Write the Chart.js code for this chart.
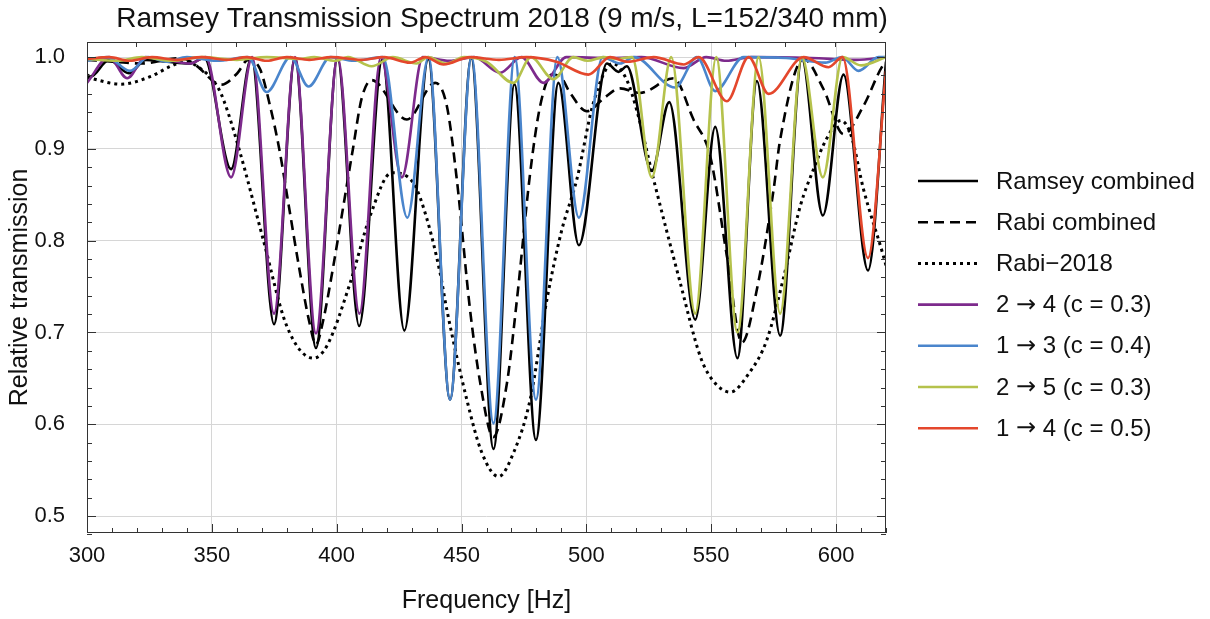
<!DOCTYPE html>
<html>
<head>
<meta charset="utf-8">
<script src="https://cdn.jsdelivr.net/npm/chart.js@4.4.0/dist/chart.umd.min.js"></script>
<style>
  html, body { margin: 0; padding: 0; background: #fff; }
</style>
</head>
<body>
<canvas id="myChart" width="1210" height="619"></canvas>
<script>
// Data (frequency in Hz, relative transmission)
var ramseyFreq = [300, 301.5, 308.8, 316.8, 323.5, 332, 341, 347, 357.7, 365.9, 374.9, 383.3, 391.7, 400.3, 409, 418.3, 427.1, 436.7, 445.4, 453.9, 462.8, 471.2, 479.8, 488.8, 497, 508.2, 512.9, 516.2, 526.2, 533.2, 543.6, 551.6, 560.5, 568.3, 577.6, 586.3, 594.7, 603, 612.8, 620];
var ramseyVal  = [0.981, 0.979, 0.997, 0.9825, 0.997, 0.995, 0.993, 0.999, 0.878, 0.999, 0.709, 0.999, 0.683, 0.999, 0.707, 0.998, 0.702, 0.998, 0.627, 0.999, 0.573, 0.9705, 0.583, 0.972, 0.795, 0.993, 0.984, 0.990, 0.876, 0.951, 0.714, 0.924, 0.672, 0.974, 0.6965, 0.998, 0.8275, 0.981, 0.7675, 0.995];

var rabiFreq = [300, 311, 321.5, 337.5, 344.2, 350.9, 353.8, 360.2, 364.5, 369.3, 373.3, 377, 381, 385, 389, 391.7, 394.5, 398.5, 402.5, 406.5, 410, 414, 428.1, 439.4, 444.1, 448.1, 453.4, 457.5, 462.7, 468.2, 472.2, 477.5, 481.5, 486.2, 489.5, 493.5, 500.2, 506.9, 513.5, 521.5, 534.9, 542.9, 549.6, 556.3, 562.3, 568.3, 575, 577.6, 587, 595, 603, 611, 619, 620];
var rabiVal  = [0.997, 0.995, 0.993, 0.999, 0.990, 0.973, 0.970, 0.9825, 0.997, 0.987, 0.947, 0.900, 0.835, 0.770, 0.712, 0.687, 0.712, 0.770, 0.835, 0.900, 0.955, 0.975, 0.932, 0.972, 0.947, 0.867, 0.725, 0.645, 0.586, 0.645, 0.736, 0.874, 0.947, 0.981, 0.979, 0.961, 0.941, 0.955, 0.966, 0.961, 0.977, 0.932, 0.892, 0.783, 0.689, 0.747, 0.856, 0.910, 0.998, 0.965, 0.916, 0.947, 0.992, 0.994];

var rabi2018Freq = [300, 313.5, 325.5, 333.5, 338.9, 344.2, 352.2, 354.9, 361.3, 370.6, 380, 390.7, 396, 405.4, 413.4, 422, 430.7, 436, 441.4, 444.1, 452.1, 458, 464.8, 471, 477.5, 484.2, 490, 496.2, 502.8, 510.5, 516.2, 520.2, 526.9, 537.6, 545.6, 550, 557.6, 565, 572.3, 579, 585.7, 591, 596, 602, 606, 611, 619, 620];
var rabi2018Val  = [0.978, 0.9705, 0.979, 0.990, 0.995, 0.990, 0.968, 0.952, 0.896, 0.801, 0.707, 0.672, 0.685, 0.754, 0.827, 0.874, 0.863, 0.825, 0.765, 0.725, 0.627, 0.570, 0.543, 0.570, 0.627, 0.736, 0.810, 0.867, 0.950, 0.993, 0.975, 0.942, 0.867, 0.754, 0.674, 0.650, 0.635, 0.655, 0.692, 0.760, 0.838, 0.878, 0.910, 0.931, 0.915, 0.856, 0.783, 0.773];

var t24Freq = [300, 308.8, 316.1, 323.5, 332, 341.3, 347.5, 357.7, 366.2, 374.9, 383.3, 391.7, 400.4, 409.1, 417.7, 426.1, 434.5, 445.2, 455, 465.5, 474, 482.8, 492, 510, 522, 538.9, 548, 556, 566, 590, 608, 620];
var t24Val  = [0.972, 1.0, 0.977, 1.0, 0.997, 0.993, 1.0, 0.869, 1.0, 0.7205, 1.0, 0.699, 1.0, 0.7205, 1.0, 0.869, 1.0, 0.996, 1.0, 0.983, 1.0, 0.972, 1.0, 0.999, 1.0, 0.988, 1.0, 0.996, 1.0, 0.999, 0.997, 1.0];

var t13Freq = [300, 308, 317.2, 324.5, 332, 340, 352, 364.5, 372, 381.5, 388.7, 397.5, 407, 418.5, 428.3, 436.8, 445.4, 454, 462.8, 471.3, 479.8, 488.4, 497, 506.5, 513.5, 519, 535.5, 544.3, 551.6, 563, 580, 595.7, 602.4, 609, 617, 620];
var t13Val  = [0.996, 1.0, 0.985, 1.0, 0.995, 1.0, 0.996, 1.0, 0.962, 1.0, 0.968, 1.0, 0.996, 1.0, 0.825, 1.0, 0.627, 1.0, 0.601, 1.0, 0.627, 1.0, 0.825, 1.0, 0.993, 1.0, 0.967, 1.0, 0.963, 1.0, 0.999, 0.994, 1.0, 0.985, 1.0, 1.0];

var t25Freq = [300, 312, 322, 334, 346, 360, 372, 385, 391, 399.4, 404.5, 414, 422.5, 432, 436.5, 444, 451, 460, 470.8, 477.8, 486.8, 494.8, 500.5, 507, 512, 518.3, 526.2, 534, 543.6, 552, 560.5, 569, 577.6, 586.3, 594.7, 602.6, 610, 620];
var t25Val  = [0.998, 0.996, 1.0, 0.996, 1.0, 0.997, 1.0, 0.998, 1.0, 0.996, 1.0, 0.990, 1.0, 0.993, 1.0, 0.993, 1.0, 0.995, 0.972, 1.0, 0.976, 1.0, 0.996, 1.0, 0.998, 1.0, 0.869, 1.0, 0.7205, 1.0, 0.700, 1.0, 0.7205, 1.0, 0.869, 1.0, 0.991, 1.0];

var t14Freq = [300, 309, 317, 326, 336, 346, 356, 364, 372, 380, 389, 398, 410, 419, 429.4, 435.5, 442.8, 453.4, 465, 476, 488, 500.8, 509.5, 516.5, 527, 539, 545, 556.3, 565, 573, 587, 597, 602.6, 612.8, 620];
var t14Val  = [0.998, 1.0, 0.996, 1.0, 0.997, 1.0, 0.997, 1.0, 0.996, 1.0, 0.997, 1.0, 0.997, 1.0, 0.994, 1.0, 0.992, 1.0, 0.997, 1.0, 0.995, 0.981, 1.0, 0.995, 1.0, 0.992, 1.0, 0.952, 1.0, 0.960, 1.0, 0.989, 1.0, 0.781, 0.985];

// Axis ticks
var xTicks = [300, 350, 400, 450, 500, 550, 600];
var yTicks = [0.5, 0.6, 0.7, 0.8, 0.9, 1.0];

function pts(xs, ys) {
  return xs.map(function (x, i) { return { x: x, y: ys[i] }; });
}

var base = {
  pointRadius: 0,
  fill: false,
  borderWidth: 2.6,
  cubicInterpolationMode: 'monotone',
  borderJoinStyle: 'round'
};

var data = {
  datasets: [
    Object.assign({}, base, { label: 'Ramsey combined', data: pts(ramseyFreq, ramseyVal), borderColor: '#000000', order: 4 }),
    Object.assign({}, base, { label: 'Rabi combined', data: pts(rabiFreq, rabiVal), borderColor: '#000000', borderDash: [10, 6], order: 5 }),
    Object.assign({}, base, { label: 'Rabi\u22122018', data: pts(rabi2018Freq, rabi2018Val), borderColor: '#000000', borderDash: [3, 4], borderWidth: 3, order: 6 }),
    Object.assign({}, base, { label: '2 \u2192 4 (c = 0.3)', data: pts(t24Freq, t24Val), borderColor: '#7d2a8c', order: 3 }),
    Object.assign({}, base, { label: '1 \u2192 3 (c = 0.4)', data: pts(t13Freq, t13Val), borderColor: '#4a85cc', order: 2 }),
    Object.assign({}, base, { label: '2 \u2192 5 (c = 0.3)', data: pts(t25Freq, t25Val), borderColor: '#b5c24c', order: 1 }),
    Object.assign({}, base, { label: '1 \u2192 4 (c = 0.5)', data: pts(t14Freq, t14Val), borderColor: '#e4472c', order: 0 })
  ]
};

var FONT = "'Liberation Sans', Arial, sans-serif";

// draw a label, giving the arrow glyph a font that has a full-size one
function drawLabel(ctx, text, x, y, size) {
  var parts = text.split('\u2192');
  ctx.font = size + 'px ' + FONT;
  ctx.fillText(parts[0], x, y);
  if (parts.length < 2) return;
  x += ctx.measureText(parts[0]).width;
  ctx.font = size + "px 'DejaVu Sans', sans-serif";
  ctx.fillText('\u2192', x, y);
  x += ctx.measureText('\u2192').width;
  ctx.font = size + 'px ' + FONT;
  ctx.fillText(parts[1], x, y);
}

// frame with inward ticks, title and legend
var decor = {
  id: 'decor',
  afterDatasetsDraw: function (chart) {
    var ctx = chart.ctx, a = chart.chartArea;
    var xs = chart.scales.x, ys = chart.scales.y;
    ctx.save();
    ctx.strokeStyle = '#333';
    ctx.lineWidth = 1;
    ctx.strokeRect(a.left + 0.5, a.top + 0.5, a.right - a.left - 1, a.bottom - a.top - 1);
    ctx.beginPath();
    var v, px, py, len;
    for (v = 300; v <= 620; v += 10) {
      px = Math.round(xs.getPixelForValue(v)) + 0.5;
      len = (v % 50 === 0) ? 9 : 5;
      ctx.moveTo(px, a.bottom); ctx.lineTo(px, a.bottom - len);
    }
    for (v = 319.5; v < 620; v += 20) {
      px = Math.round(xs.getPixelForValue(v)) + 0.5;
      ctx.moveTo(px, a.top); ctx.lineTo(px, a.top + 5);
    }
    for (var k = 24; k <= 50; k++) {
      v = k * 0.02;
      py = Math.round(ys.getPixelForValue(v)) + 0.5;
      len = (k % 5 === 0) ? 9 : 5;
      ctx.moveTo(a.left, py); ctx.lineTo(a.left + len, py);
      ctx.moveTo(a.right, py); ctx.lineTo(a.right - len, py);
    }
    ctx.stroke();
    ctx.restore();
  },
  afterDraw: function (chart) {
    var ctx = chart.ctx;
    ctx.save();
    ctx.fillStyle = '#111';
    ctx.font = '28px ' + FONT;
    ctx.textAlign = 'center';
    ctx.textBaseline = 'middle';
    ctx.fillText('Ramsey Transmission Spectrum 2018 (9 m/s, L=152/340 mm)', 502, 19);

    ctx.textAlign = 'left';
    chart.data.datasets.forEach(function (ds, i) {
      var y = 181 + i * 41.2;
      ctx.save();
      ctx.strokeStyle = ds.borderColor;
      ctx.lineWidth = ds.borderWidth;
      ctx.setLineDash(ds.borderDash || []);
      ctx.beginPath();
      ctx.moveTo(918, y); ctx.lineTo(978, y);
      ctx.stroke();
      ctx.restore();
      drawLabel(ctx, ds.label, 996, y + 1, 24);
    });
    ctx.restore();
  }
};

var options = {
  responsive: false,
  animation: false,
  events: [],
  layout: { padding: { top: 42, right: 324, left: 0, bottom: 0 } },
  plugins: { legend: { display: false }, title: { display: false }, tooltip: { enabled: false } },
  scales: {
    x: {
      type: 'linear',
      min: 300,
      max: 620,
      afterBuildTicks: function (s) { s.ticks = xTicks.map(function (v) { return { value: v }; }); },
      afterFit: function (s) { s.height = 86; },
      grid: { color: '#d6d6d6', drawTicks: false, lineWidth: 1 },
      border: { display: false },
      ticks: { font: { family: FONT, size: 22 }, color: '#111', padding: 10, maxRotation: 0 },
      title: { display: true, text: 'Frequency [Hz]', color: '#111', font: { family: FONT, size: 25, lineHeight: 1.2 }, padding: { top: 0, bottom: 3 } }
    },
    y: {
      type: 'linear',
      min: 0.4815,
      max: 1.0165,
      afterBuildTicks: function (s) { s.ticks = yTicks.map(function (v) { return { value: v }; }); },
      afterFit: function (s) { s.width = 87; },
      grid: { color: '#d6d6d6', drawTicks: false, lineWidth: 1 },
      border: { display: false },
      ticks: { font: { family: FONT, size: 22 }, color: '#111', padding: 22, callback: function (v) { return v.toFixed(1); } },
      title: { display: true, text: 'Relative transmission', color: '#111', font: { family: FONT, size: 25, lineHeight: 1.2 }, padding: { top: 5, bottom: 0 } }
    }
  }
};

var ctx = document.getElementById('myChart').getContext('2d');
var myChart = new Chart(ctx, {
  type: 'line',
  data: data,
  options: options,
  plugins: [decor]
});
</script>
</body>
</html>
